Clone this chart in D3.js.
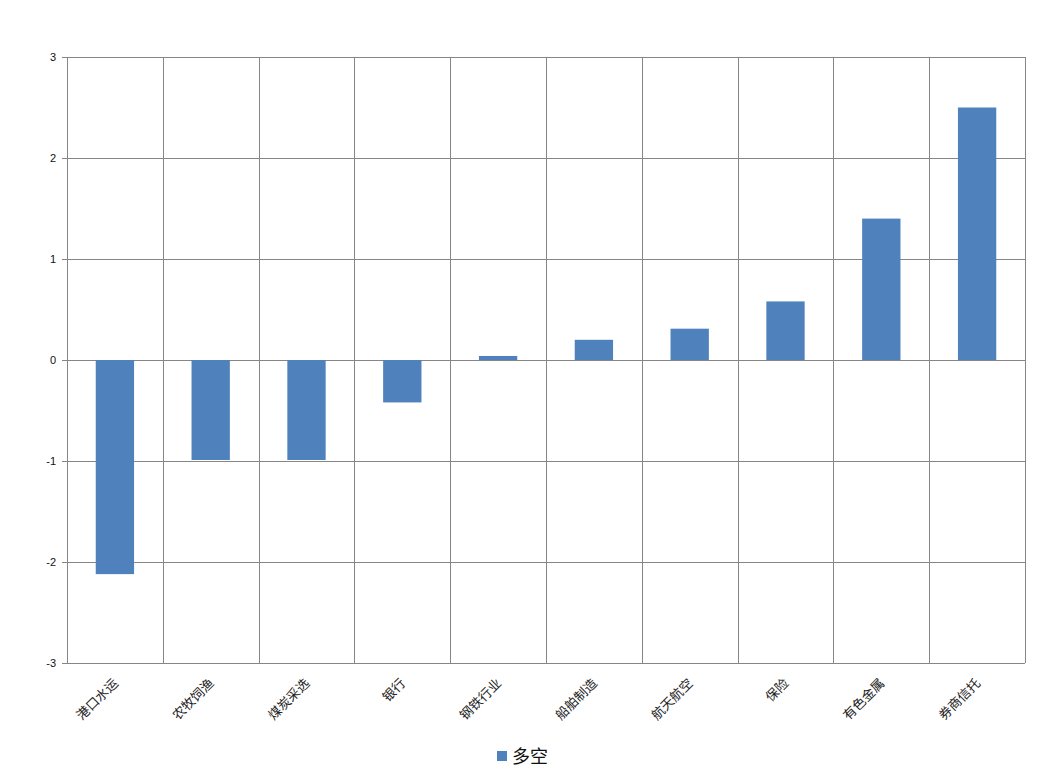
<!DOCTYPE html>
<html><head><meta charset="utf-8">
<script src="https://cdn.jsdelivr.net/npm/d3@7"></script>
<style>body{margin:0;background:#fff}</style>
</head><body>
<svg id="c" width="1041" height="782"></svg>
<script>
const categories = ["港口水运","农牧饲渔","煤炭采选","银行","钢铁行业","船舶制造","航天航空","保险","有色金属","券商信托"];
const values = [-2.12,-0.99,-0.99,-0.42,0.04,0.20,0.31,0.58,1.40,2.50];
const yTicks = [-3,-2,-1,0,1,2,3];
const seriesName = "多空";

const svg = d3.select("#c");
const L=67, R=1025, T=57, B=663;
const x = d3.scaleBand().domain(categories).range([L,R]).paddingInner(0).paddingOuter(0);
const y = d3.scaleLinear().domain([-3,3]).range([B,T]);
const grid = "#868686";

svg.append("g").selectAll("line").data(yTicks).join("line")
  .attr("x1",L-5).attr("x2",R).attr("y1",d=>Math.round(y(d))+0.5).attr("y2",d=>Math.round(y(d))+0.5)
  .attr("stroke",grid).attr("stroke-width",1);
const bounds = categories.map(c=>x(c)).concat([R]);
svg.append("g").selectAll("line").data(bounds).join("line")
  .attr("x1",d=>Math.round(d)+0.5).attr("x2",d=>Math.round(d)+0.5).attr("y1",T).attr("y2",B)
  .attr("stroke",grid).attr("stroke-width",1);

svg.append("g").selectAll("text").data(yTicks).join("text")
  .attr("x",56).attr("y",d=>y(d)+4).attr("text-anchor","end")
  .attr("font-family","Arial, Liberation Sans, sans-serif").attr("font-size",11).attr("fill","#111")
  .text(d=>d);

const bw = x.bandwidth()*0.4;
svg.append("g").selectAll("rect").data(values).join("rect")
  .attr("x",(d,i)=>x(categories[i])+x.bandwidth()/2-bw/2)
  .attr("width",bw)
  .attr("y",d=>y(Math.max(0,d)))
  .attr("height",d=>Math.abs(y(d)-y(0)))
  .attr("fill","#4F81BD");

svg.append("g").selectAll("text").data(categories).join("text")
  .attr("transform",c=>`translate(${x(c)+x.bandwidth()/2+4},${684}) rotate(-45)`)
  .attr("text-anchor","end")
  .attr("font-family","Noto Sans CJK SC, sans-serif").attr("font-size",13).attr("fill","#222")
  .text(c=>c);

svg.append("rect").attr("x",497).attr("y",751).attr("width",10).attr("height",10).attr("fill","#4F81BD");
svg.append("text").attr("x",512).attr("y",763).attr("font-family","Noto Sans CJK SC, sans-serif")
  .attr("font-size",18).attr("fill","#111").text(seriesName);
</script>
</body></html>
